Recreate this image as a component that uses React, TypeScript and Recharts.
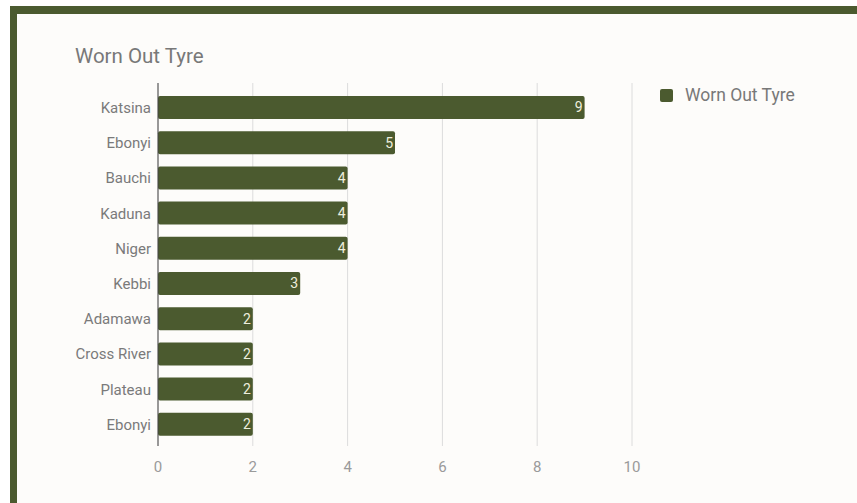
import { BarChart, Bar, XAxis, YAxis, CartesianGrid, LabelList } from 'recharts';

const states = ['Katsina', 'Ebonyi', 'Bauchi', 'Kaduna', 'Niger', 'Kebbi', 'Adamawa', 'Cross River', 'Plateau', 'Ebonyi'];
const wornOut = [9, 5, 4, 4, 4, 3, 2, 2, 2, 2];
const xTicks = [0, 2, 4, 6, 8, 10];
const seriesName = 'Worn Out Tyre';

const GREEN = '#4b5a2f';
const FONT = 'Roboto, "Noto Sans", sans-serif';

export default function App() {
  const data = states.map((s, i) => ({ name: s, value: wornOut[i] }));

  return (
    <div style={{ position: 'absolute', left: 0, top: 0, width: 857, height: 503, background: '#fff', overflow: 'hidden', fontFamily: FONT }}>
      <div style={{ position: 'absolute', left: 10, top: 6, width: 847, height: 497, borderTop: `8px solid ${GREEN}`, borderLeft: `7px solid ${GREEN}`, boxSizing: 'border-box', background: '#fdfcfa' }} />
      <div style={{ position: 'absolute', left: 75, top: 44, fontSize: 20.5, color: '#787878' }}>{seriesName}</div>
      {/* legend */}
      <div style={{ position: 'absolute', left: 660, top: 85, display: 'flex', alignItems: 'center', fontSize: 17.5, color: '#787878' }}>
        <span style={{ display: 'inline-block', width: 13, height: 13, background: GREEN, borderRadius: 2, marginRight: 12 }} />
        {seriesName}
      </div>
      <div style={{ position: 'absolute', left: 0, top: 0 }}>
        <BarChart
          width={857}
          height={503}
          data={data}
          layout="vertical"
          margin={{ top: 83, right: 225, bottom: 29, left: 73 }}
        >
          <CartesianGrid horizontal={false} stroke="#dcdcdc" />
          <XAxis
            type="number"
            domain={[0, 10]}
            ticks={xTicks}
            axisLine={false}
            tickLine={false}
            tick={{ fill: '#9a9a9a', fontSize: 15, fontFamily: FONT }}
            tickMargin={9}
            height={28}
          />
          <YAxis
            type="category"
            dataKey="name"
            width={85}
            padding={{ top: 7, bottom: 4 }}
            axisLine={{ stroke: '#444' }}
            tickLine={false}
            tick={{ fill: '#7a7a7a', fontSize: 15, fontFamily: FONT }}
            tickMargin={1}
          />
          <Bar dataKey="value" name={seriesName} fill={GREEN} barSize={23} radius={2} isAnimationActive={false}>
            <LabelList dataKey="value" position="insideRight" offset={2} fill="#eeeedd" fontSize={14} fontFamily={FONT} />
          </Bar>
        </BarChart>
      </div>
    </div>
  );
}
